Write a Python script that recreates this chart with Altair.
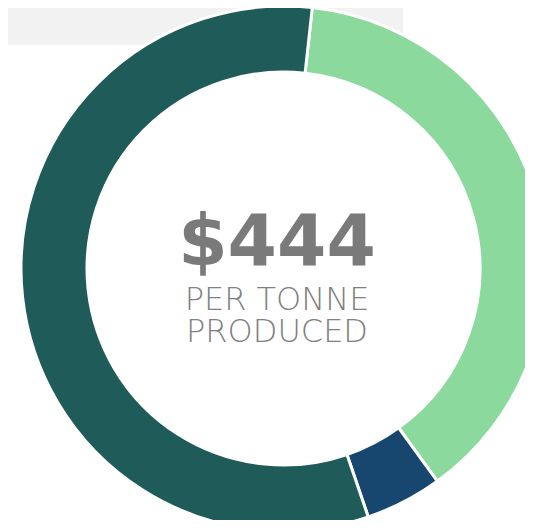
import altair as alt
import pandas as pd

# Data
categories = ["Segment A", "Segment B", "Segment C"]
values = [170, 21, 253]
colors = ["#8bd99d", "#17466e", "#1e5b59"]
order = [1, 2, 3]

headline = ["$444"]
sub_lines = ["PER TONNE", "PRODUCED"]

df = pd.DataFrame({"category": categories, "value": values, "order": order})

start = 6.3 * 3.141592653589793 / 180
two_pi = 2 * 3.141592653589793

W, H = 517, 512

bg = alt.Chart(pd.DataFrame({"k": [0]})).mark_rect(color="#f2f2f2").encode(
    x=alt.value(0), x2=alt.value(395), y=alt.value(0), y2=alt.value(37)
)

donut = alt.Chart(df).mark_arc(
    outerRadius=262.5, innerRadius=196.5, stroke="white", strokeWidth=3
).encode(
    theta=alt.Theta("value:Q", stack=True, scale=alt.Scale(range=[start, start + two_pi])),
    order=alt.Order("order:Q"),
    color=alt.Color("category:N", scale=alt.Scale(domain=categories, range=colors), legend=None),
    x=alt.value(275.5),
    y=alt.value(260.5),
)

big = alt.Chart(pd.DataFrame({"t": headline})).mark_text(
    font="DejaVu Sans", fontWeight="bold", fontSize=71, color="#7a7a7a",
    align="center", baseline="alphabetic"
).encode(text="t:N", x=alt.value(269), y=alt.value(257))

sub = alt.Chart(pd.DataFrame({"t": ["\n".join(sub_lines)]})).mark_text(
    font="DejaVu Sans", fontWeight=200, fontSize=32, color="#808080",
    align="center", baseline="alphabetic", lineBreak="\n", lineHeight=32
).encode(text="t:N", x=alt.value(269), y=alt.value(302))

chart = alt.layer(bg, donut, big, sub).properties(
    width=W, height=H, autosize=alt.AutoSizeParams(type="none"), padding=0
).configure_view(stroke=None)

chart.save("out.html", embed_options={"renderer": "svg", "actions": False})
